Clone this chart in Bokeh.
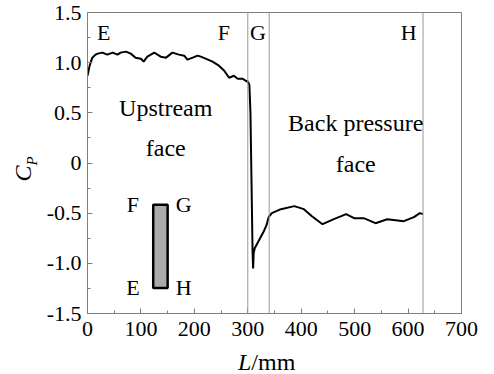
from bokeh.plotting import figure
from bokeh.models import FixedTicker, Label, Span, Range1d, Div
from bokeh.layouts import column
from bokeh.embed import file_html
from bokeh.resources import INLINE

# Data
L_mm = [0, 4, 9, 15, 19, 28, 37, 47, 56, 62, 72, 81, 90, 100, 105, 112, 125, 137, 147,
        159, 171, 181, 187, 197, 206, 212, 221, 234, 246, 256, 265, 274, 281, 290, 296,
        300, 303, 305, 307, 309, 310, 311, 313, 315, 320, 324, 330, 335, 339, 345, 362,
        387, 405, 420, 440, 461, 475, 484, 499, 517, 539, 561, 592, 611, 622, 628]
Cp = [0.87, 0.97, 1.05, 1.08, 1.09, 1.10, 1.08, 1.10, 1.08, 1.10, 1.11, 1.09, 1.05, 1.04,
      1.01, 1.06, 1.10, 1.06, 1.05, 1.10, 1.08, 1.07, 1.03, 1.05, 1.07, 1.06, 1.04, 1.01,
      0.97, 0.92, 0.85, 0.87, 0.84, 0.84, 0.82, 0.81, 0.78, 0.50, -0.20, -0.90, -1.05,
      -0.90, -0.85, -0.83, -0.78, -0.74, -0.68, -0.62, -0.54, -0.50, -0.46, -0.43, -0.46,
      -0.53, -0.61, -0.56, -0.53, -0.51, -0.55, -0.55, -0.60, -0.56, -0.58, -0.54, -0.50,
      -0.51]

face_boundaries = [300, 340, 628]
x_ticks = [0, 100, 200, 300, 400, 500, 600, 700]
x_minor = [50, 150, 250, 350, 450, 550, 650]
y_ticks = [1.5, 1.0, 0.5, 0.0, -0.5, -1.0, -1.5]
y_tick_labels = ["1.5", "1.0", "0.5", "0", "-0.5", "-1.0", "-1.5"]
y_minor = [1.25, 0.75, 0.25, -0.25, -0.75, -1.25]

FONT = "Liberation Serif"
GRAY = "#7f7f7f"

p = figure(width=494, height=374, output_backend="svg", toolbar_location=None,
           x_range=Range1d(0, 700), y_range=Range1d(-1.5, 1.5),
           min_border_left=87, min_border_right=33, min_border_top=12, min_border_bottom=61)
p.xgrid.visible = False
p.ygrid.visible = False
p.outline_line_color = GRAY
p.outline_line_width = 1
p.background_fill_color = "white"
p.border_fill_color = "white"

for ax in (p.xaxis[0], p.yaxis[0]):
    ax.axis_line_color = GRAY
    ax.major_tick_line_color = GRAY
    ax.minor_tick_line_color = GRAY
    ax.major_tick_in = 5
    ax.major_tick_out = 0
    ax.minor_tick_in = 3
    ax.minor_tick_out = 0
    ax.major_label_text_font = FONT
    ax.major_label_text_font_size = "22px"
    ax.major_label_text_color = "black"

p.xaxis.ticker = FixedTicker(ticks=x_ticks, minor_ticks=x_minor)
p.yaxis.ticker = FixedTicker(ticks=y_ticks, minor_ticks=y_minor)
p.yaxis.major_label_overrides = {t: s for t, s in zip(y_ticks, y_tick_labels)}
p.xaxis.major_label_standoff = 8
p.yaxis.major_label_standoff = 6

for loc in face_boundaries:
    p.add_layout(Span(location=loc, dimension="height", line_color="#999999", line_width=1))

p.line(L_mm, Cp, line_color="black", line_width=2)

# inset sketch of the cross-section
p.quad(left=123, right=150, top=-0.416, bottom=-1.245, fill_color="#aaaaaa",
       line_color="black", line_width=2.5)

def lab(x, y, t, size="22px", align="center", style="normal"):
    p.add_layout(Label(x=x, y=y, text=t, text_font=FONT, text_font_size=size,
                       text_align=align, text_baseline="middle", text_font_style=style,
                       text_color="black"))

lab(30.5, 1.30, "E")
lab(255, 1.30, "F")
lab(319, 1.30, "G")
lab(601, 1.30, "H")
lab(146.5, 0.55, "Upstream", size="24px")
lab(146.5, 0.15, "face", size="24px")
lab(502, 0.40, "Back pressure", size="24px")
lab(502, -0.01, "face", size="24px")
lab(85, -0.41, "F")
lab(180, -0.41, "G")
lab(85, -1.245, "E")
lab(180, -1.245, "H")

# axis titles with mixed italic / subscript, overlaid as HTML text
titles_html = (
    '<div style="position:relative;width:494px;height:374px;pointer-events:none;'
    'font-family:\'Liberation Serif\',serif;color:black;">'
    '<span style="position:absolute;left:238px;top:348px;font-size:24px;line-height:28px;'
    'white-space:nowrap;"><i>L</i>/mm</span>'
    '<span style="position:absolute;left:6px;top:155px;width:34px;height:28px;'
    'font-size:24px;line-height:28px;text-align:center;white-space:nowrap;'
    'transform:rotate(-90deg);transform-origin:center;"><i>C</i>'
    '<sub style="font-size:15px;line-height:0;"><i>P</i></sub></span>'
    '</div>'
)
overlay = Div(text=titles_html, width=494, height=374, margin=(-374, 0, 0, 0))

layout = column(p, overlay, spacing=0)
open("out.html", "w").write(file_html(layout, INLINE))
